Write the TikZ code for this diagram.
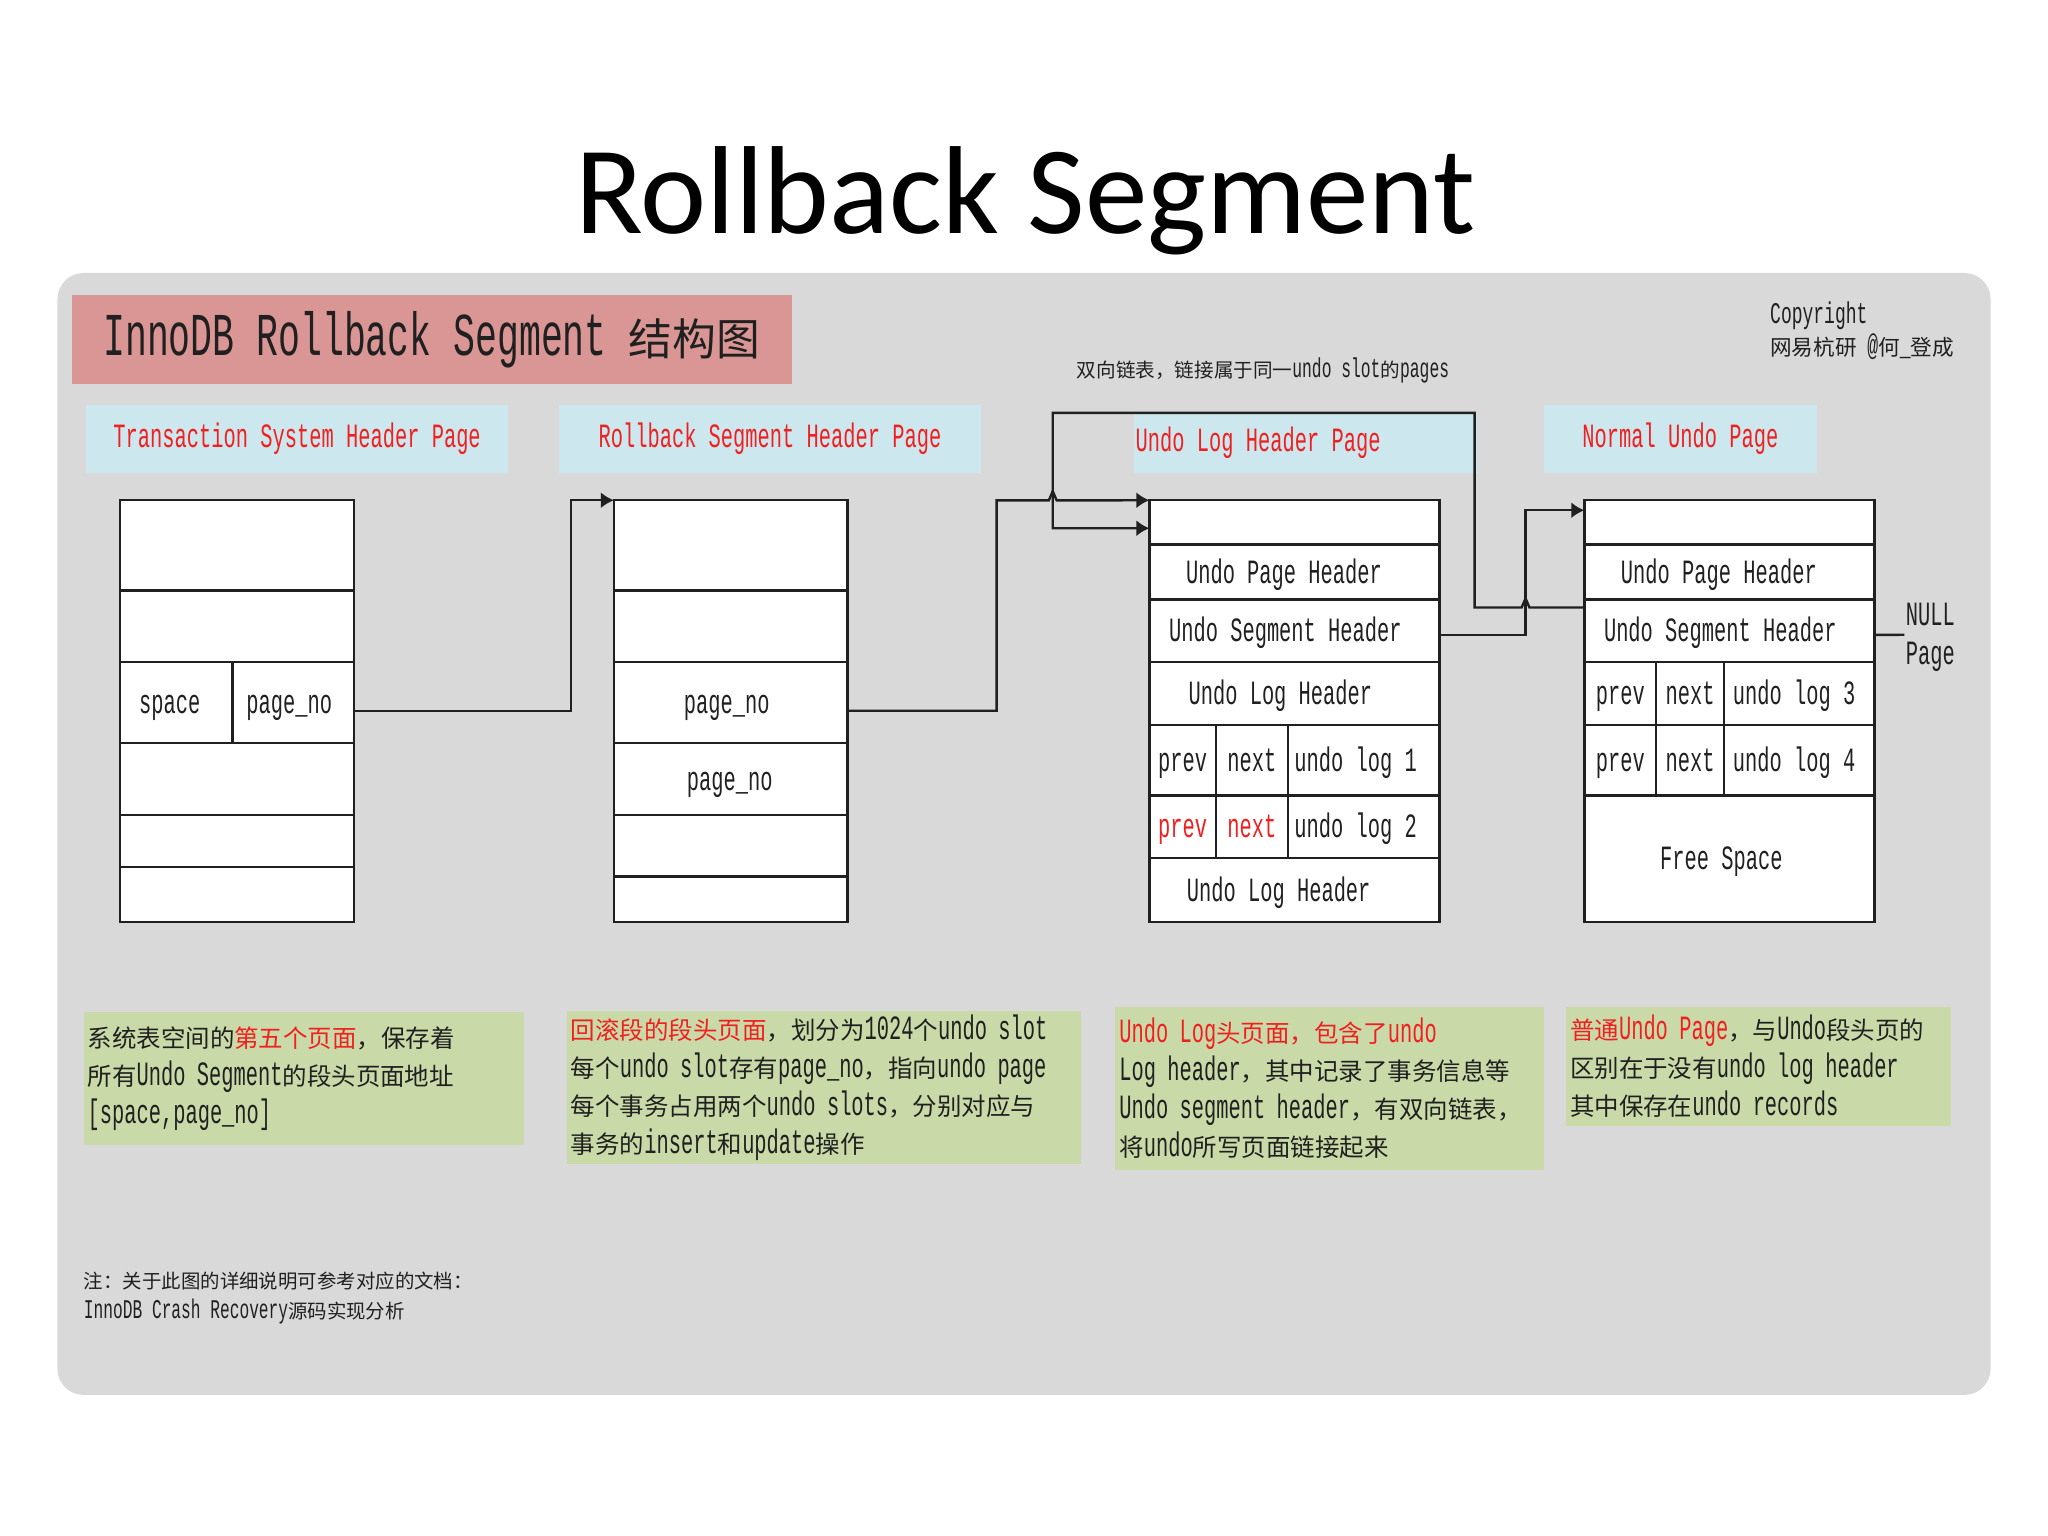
\documentclass[tikz,border=0pt]{standalone}
\usepackage{fontspec}
\usetikzlibrary{arrows.meta}
\setmainfont[FakeStretch=0.6]{Liberation Mono}
\newfontfamily\titlefont{Carlito}
\newfontfamily\zhfont[Scale=0.72]{Noto Sans CJK SC}
\newcommand{\zh}[1]{{\zhfont #1}}
\definecolor{panelgray}{HTML}{D9D9DA}
\definecolor{bandred}{HTML}{D99694}
\definecolor{pagecyan}{HTML}{CDE7EE}
\definecolor{notegreen}{HTML}{C9DAA8}
\definecolor{inkred}{HTML}{F02020}
\definecolor{ink}{HTML}{202020}
\tikzset{
	cell/.style 2 args={draw=ink,line width=1.2pt,inner sep=0pt,outer sep=0pt,anchor=north west,fill=white,
		text=ink,text height=11pt,text depth=0pt,minimum width=#1*0.653pt,minimum height=#2*0.653pt,font=\fontsize{17}{19}\selectfont},
	pagelabel/.style={fill=pagecyan,text=inkred,text height=11pt,text depth=2pt,inner sep=0pt,outer sep=0pt,minimum height=52*0.653pt,font=\fontsize{17}{19}\selectfont},
	notebox/.style 2 args={fill=notegreen,text=ink,inner xsep=2pt,inner ysep=0pt,outer sep=0pt,anchor=north west,align=left,
		text width=#1*0.653pt-4pt,minimum height=#2*0.653pt,font=\fontsize{17}{19}\selectfont},
	plain/.style={text=ink,inner sep=0pt,align=left},
	link/.style={-{Latex[length=6.5pt,width=8pt]},draw=ink,line width=1.2pt},
}
\begin{document}
\begin{tikzpicture}[x=0.653pt,y=-0.653pt]
	\useasboundingbox (0,0) rectangle (1568,1176);
	\node[text=black,font=\titlefont\fontsize{62.6}{70}\selectfont] (title) at (785,154) {Rollback Segment};
	\fill[panelgray,rounded corners=13pt] (44,209) rectangle (1524,1068);

	\node[fill=bandred,text=ink,inner sep=0pt,minimum width=551*0.653pt,minimum height=68*0.653pt,font=\fontsize{30.4}{34}\selectfont] (band) at (330.5,260) {InnoDB Rollback Segment \zh{结构图}};
	\node[plain,anchor=west,font=\fontsize{15}{16}\selectfont] (copyright) at (1355,253) {Copyright\\\zh{网易杭研} @\zh{何}\_\zh{登成}};
	\node[plain,font=\fontsize{13.6}{15}\selectfont] (linknote) at (967,284) {\zh{双向链表，链接属于同一}undo slot\zh{的}pages};

	\node[pagelabel,minimum width=323*0.653pt] (tspage) at (227.5,336) {Transaction System Header Page};
	\node[pagelabel,minimum width=323*0.653pt] (rspage) at (589.5,336) {Rollback Segment Header Page};
	\node[pagelabel,minimum width=262*0.653pt,minimum height=46*0.653pt,anchor=west] (ulpage) at (868,339) {\hspace*{1pt}Undo Log Header Page\hspace*{48pt}};
	\node[pagelabel,minimum width=209*0.653pt] (nupage) at (1286.5,336) {Normal Undo Page};

	\node[cell={179}{69}] (a1) at (92,383) {};
	\node[cell={179}{55}] (a2) at (a1.south west) {};
	\node[cell={86}{62}] (a3l) at (a2.south west) {space\hspace*{6.5pt}};
	\node[cell={93}{62}] (a3r) at (a3l.north east) {page\_no\hspace*{4pt}};
	\node[cell={179}{55}] (a4) at (a3l.south west) {};
	\node[cell={179}{40}] (a5) at (a4.south west) {};
	\node[cell={179}{42}] (a6) at (a5.south west) {};

	\node[cell={179}{69}] (b1) at (470,383) {};
	\node[cell={179}{55}] (b2) at (b1.south west) {};
	\node[cell={179}{62}] (b3) at (b2.south west) {page\_no\hspace*{4pt}};
	\node[cell={179}{55}] (b4) at (b3.south west) {page\_no\hspace*{1pt}};
	\node[cell={179}{47}] (b5) at (b4.south west) {};
	\node[cell={179}{35}] (b6) at (b5.south west) {};

	\node[cell={222}{34}] (c1) at (880,383) {};
	\node[cell={222}{42}] (c2) at (c1.south west) {Undo Page Header\hspace*{10.4pt}};
	\node[cell={222}{48}] (c3) at (c2.south west) {Undo Segment Header\hspace*{9pt}};
	\node[cell={222}{48}] (c4) at (c3.south west) {Undo Log Header\hspace*{14pt}};
	\node[cell={51}{54}] (c5a) at (c4.south west) {prev};
	\node[cell={55}{54}] (c5b) at (c5a.north east) {next};
	\node[cell={116}{54}] (c5c) at (c5b.north east) {undo log 1\hspace*{8pt}};
	\node[cell={51}{48},text=inkred] (c6a) at (c5a.south west) {prev};
	\node[cell={55}{48},text=inkred] (c6b) at (c6a.north east) {next};
	\node[cell={116}{48}] (c6c) at (c6b.north east) {undo log 2\hspace*{8pt}};
	\node[cell={222}{49}] (c7) at (c6a.south west) {Undo Log Header\hspace*{15.7pt}};

	\node[cell={222}{34}] (d1) at (1213,383) {};
	\node[cell={222}{42}] (d2) at (d1.south west) {Undo Page Header\hspace*{10.4pt}};
	\node[cell={222}{48}] (d3) at (d2.south west) {Undo Segment Header\hspace*{9pt}};
	\node[cell={55}{48}] (d4a) at (d3.south west) {prev};
	\node[cell={52}{48}] (d4b) at (d4a.north east) {next};
	\node[cell={115}{48}] (d4c) at (d4b.north east) {undo log 3\hspace*{5pt}};
	\node[cell={55}{54}] (d5a) at (d4a.south west) {prev};
	\node[cell={52}{54}] (d5b) at (d5a.north east) {next};
	\node[cell={115}{54}] (d5c) at (d5b.north east) {undo log 4\hspace*{5pt}};
	\node[cell={222}{97}] (d6) at (d5a.south west) {Free Space\hspace*{8pt}};

	\node[plain,font=\fontsize{17}{19.6}\selectfont] (nullpage) at (1478,488) {NULL\\Page};
	\coordinate (nullend) at (1458,486);

	\draw[link] ([yshift=-4pt]a3r.east) -- ++(166,0) |- (b1.north west);
	\draw[link] ([yshift=-4pt]b3.east) -- ++(114,0) -- ++(0,-161) -- ++(40,0) -- ++(3,-7) -- ++(3,7) -- (c1.north west);
	\draw[link] ([yshift=-4pt]d3.north west) -- ++(-42,0) -- ++(-3,-7) -- ++(-3,7) -- ++(-36,0) -- ++(0,-149) -- ++(-323,0) |- ([yshift=-14pt]c1.north west);
	\draw[link] ([yshift=-2pt]c3.east) -- ++(66,0) |- ([yshift=-5pt]d1.north west);
	\draw[draw=ink,line width=1.2pt] ([yshift=-2pt]d3.east) -- (nullend);

	\node[notebox={337}{102}] (note1) at (64,775) {\zh{系统表空间的}\textcolor{inkred}{\zh{第五个页面}}\zh{，保存着}\\\zh{所有}Undo Segment\zh{的段头页面地址}\\{[}space,page\_no{]}};
	\node[notebox={394}{117}] (note2) at (434,774) {\textcolor{inkred}{\zh{回滚段的段头页面}}\zh{，划分为}1024\zh{个}undo slot\\\zh{每个}undo slot\zh{存有}page\_no\zh{，指向}undo page\\\zh{每个事务占用两个}undo slots\zh{，分别对应与}\\\zh{事务的}insert\zh{和}update\zh{操作}};
	\node[notebox={328}{125}] (note3) at (854,771) {\textcolor{inkred}{Undo Log\zh{头页面，包含了}undo}\\Log header\zh{，其中记录了事务信息等}\\Undo segment header\zh{，有双向链表，}\\\zh{将}undo\zh{所写页面链接起来}};
	\node[notebox={295}{91}] (note4) at (1199,771) {\textcolor{inkred}{\zh{普通}Undo Page}\zh{，与}Undo\zh{段头页的}\\\zh{区别在于没有}undo log header\\\zh{其中保存在}undo records};

	\node[plain,anchor=west,font=\fontsize{13.5}{15}\selectfont] (footnote) at (64,994) {\zh{注：关于此图的详细说明可参考对应的文档：}\\InnoDB Crash Recovery\zh{源码实现分析}};
\end{tikzpicture}
\end{document}
